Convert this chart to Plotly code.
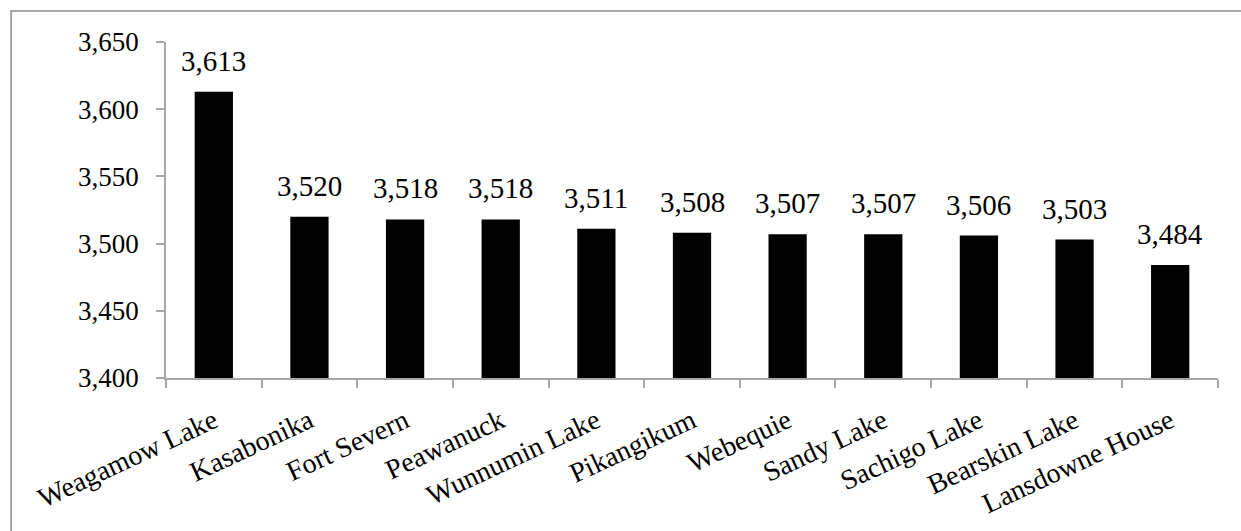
import plotly.graph_objects as go

communities = ["Weagamow Lake", "Kasabonika", "Fort Severn", "Peawanuck",
               "Wunnumin Lake", "Pikangikum", "Webequie", "Sandy Lake",
               "Sachigo Lake", "Bearskin Lake", "Lansdowne House"]
values = [3613, 3520, 3518, 3518, 3511, 3508, 3507, 3507, 3506, 3503, 3484]

y_ticks = [3400, 3450, 3500, 3550, 3600, 3650]

SERIF = "Liberation Serif, Times New Roman, serif"
AXIS_GREY = "#a6a6a6"

fig = go.Figure()
fig.add_trace(go.Bar(
    x=communities,
    y=values,
    marker=dict(color="black", line=dict(width=0)),
))

# value labels above each bar
for name, v in zip(communities, values):
    fig.add_annotation(
        x=name, y=v, text=f"{v:,}", showarrow=False,
        yanchor="bottom", yshift=13,
        font=dict(family=SERIF, size=29, color="black"),
    )

# outer chart frame
fig.add_shape(type="rect", xref="paper", yref="paper",
              x0=-0.1473, x1=1.2, y0=-0.6, y1=1.0923,
              line=dict(color="#8c8c8c", width=1.5), fillcolor="rgba(0,0,0,0)",
              layer="below")

fig.update_layout(
    width=1241, height=531,
    margin=dict(l=166, r=23, t=42, b=153, autoexpand=False),
    paper_bgcolor="white", plot_bgcolor="white",
    bargap=0.6,
    showlegend=False,
    font=dict(family=SERIF, color="black"),
)
fig.update_xaxes(
    automargin=False,
    showline=True, linecolor=AXIS_GREY, linewidth=1.5,
    ticks="outside", tickson="boundaries", ticklen=8, tickcolor=AXIS_GREY, tickwidth=1.5,
    tickangle=-25, tickfont=dict(family=SERIF, size=28, color="black"),
    ticklabelstandoff=14,
    showgrid=False,
)
fig.update_yaxes(
    automargin=False,
    range=[3400, 3650], tickvals=y_ticks, ticktext=[f"{t:,}" for t in y_ticks],
    showline=True, linecolor=AXIS_GREY, linewidth=1.5,
    ticks="outside", ticklen=8, tickcolor=AXIS_GREY, tickwidth=1.5,
    tickfont=dict(family=SERIF, size=27, color="black"),
    ticklabelstandoff=12,
    showgrid=False, zeroline=False,
)

fig.write_html("out.html")
